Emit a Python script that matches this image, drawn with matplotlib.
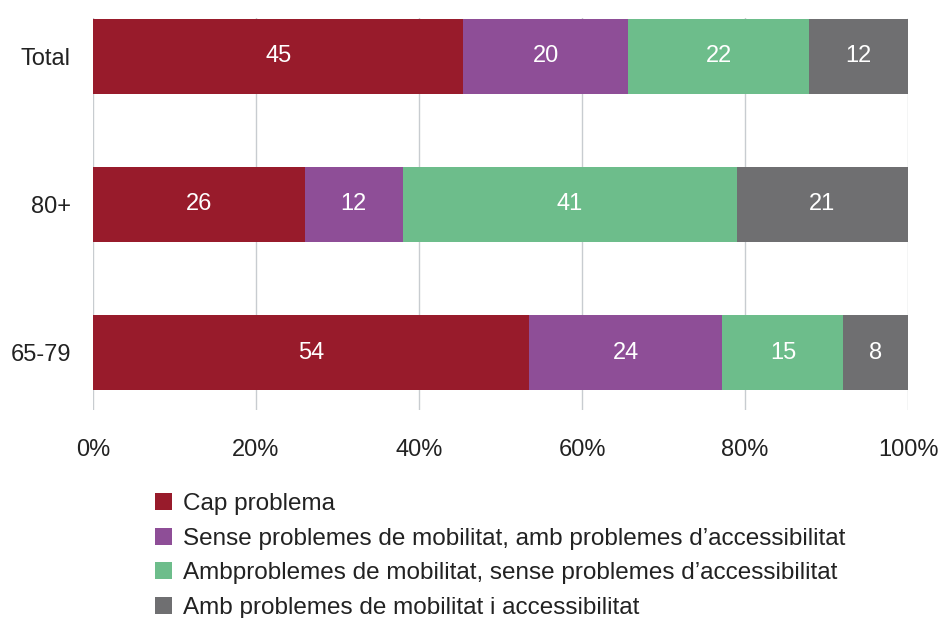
import numpy as np
import matplotlib.pyplot as plt
from matplotlib.patches import Patch

plt.rcParams['font.family'] = ['Liberation Sans', 'DejaVu Sans']

groups = ['65-79', '80+', 'Total']
series = ['Cap problema',
          'Sense problemes de mobilitat, amb problemes d\u2019accessibilitat',
          'Ambproblemes de mobilitat, sense problemes d\u2019accessibilitat',
          'Amb problemes de mobilitat i accessibilitat']
cap_problema = [54, 26, 45]
sense_mob = [24, 12, 20]
amb_mob = [15, 41, 22]
amb_tot = [8, 21, 12]
colors = ['#981b2b', '#8e4e97', '#6dbd8b', '#6f6f71']

vals = np.array([cap_problema, sense_mob, amb_mob, amb_tot], dtype=float)
pct = vals / vals.sum(axis=0) * 100

fig = plt.figure(figsize=(9.39, 6.18), dpi=100)
ax = fig.add_axes([93 / 939, 1 - 410 / 618, 815 / 939, 392 / 618])

y = np.arange(len(groups))
left = np.zeros(len(groups))
for i in range(len(series)):
    ax.barh(y, pct[i], left=left, height=0.505, color=colors[i], zorder=2)
    for j in range(len(groups)):
        ax.text(left[j] + pct[i][j] / 2, y[j], '%d' % vals[i][j],
                ha='center', va='center', color='white', fontsize=17)
    left += pct[i]

ax.set_xlim(0, 100)
ax.set_ylim(-0.384, 2.256)
ax.set_xticks(np.arange(0, 101, 20))
ax.set_xticklabels(['%d%%' % v for v in range(0, 101, 20)])
ax.set_yticks(y)
ax.set_yticklabels(groups)
ax.tick_params(length=0, labelsize=17, colors='#222222')
ax.tick_params(axis='x', pad=21)
ax.tick_params(axis='y', pad=16)
ax.grid(axis='x', color='#c8ccd0', linewidth=1, zorder=0)
for s in ax.spines.values():
    s.set_visible(False)

handles = [Patch(facecolor=c, edgecolor='none') for c in colors]
fig.legend(handles, series, loc='upper left', bbox_to_anchor=(133 / 939, 1 - 471 / 618),
           frameon=False, fontsize=17.5, handlelength=0.7, handleheight=0.7,
           handletextpad=0.45, labelspacing=0.52, labelcolor='#222222')

fig.savefig('out.png', dpi=100)
